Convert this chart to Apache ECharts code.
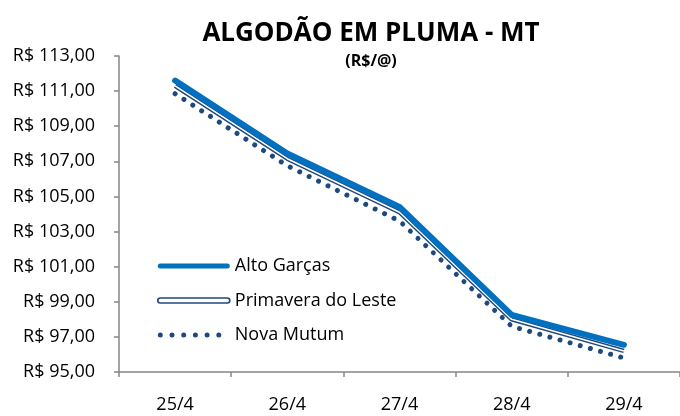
<!DOCTYPE html>
<html>
<head>
<meta charset="utf-8">
<script src="https://cdn.jsdelivr.net/npm/echarts@6/dist/echarts.min.js"></script>
<style>
html,body{margin:0;padding:0;background:#fff;}
#chart{width:680px;height:416px;}
</style>
</head>
<body>
<div id="chart"></div>
<script>
var categories = ['25/4', '26/4', '27/4', '28/4', '29/4'];
var altoGarcas = [111.60, 107.45, 104.40, 98.25, 96.55];
var primaveraLeste = [111.30, 107.15, 104.10, 98.00, 96.20];
var novaMutum = [110.85, 106.75, 103.60, 97.60, 95.80];
var yTicks = { min: 95, max: 113, interval: 2 };

var FONT = 'Open Sans';
var BLUE = '#0070C0';
var NAVY = '#1F497D';
var AXIS = '#868686';

var chart = echarts.init(document.getElementById('chart'), null, { renderer: 'canvas' });
chart.setOption({
  animation: false,
  backgroundColor: '#ffffff',
  title: {
    text: 'ALGODÃO EM PLUMA - MT',
    subtext: '(R$/@)',
    left: 366,
    top: 16,
    textAlign: 'center',
    itemGap: 6,
    textStyle: { fontFamily: FONT, fontWeight: 'bold', fontSize: 26, color: '#000' },
    subtextStyle: { fontFamily: FONT, fontWeight: 'bold', fontSize: 16, color: '#000' }
  },
  grid: { left: 119, top: 56, width: 573, height: 316, containLabel: false },
  legend: {
    orient: 'vertical',
    left: 152,
    top: 252,
    itemWidth: 72,
    itemHeight: 20,
    itemGap: 16.5,
    symbolKeepAspect: true,
    textStyle: { fontFamily: FONT, fontSize: 18, color: '#000' },
    data: [
      { name: 'Alto Garças', icon: 'path://M2.5,0 L69.5,0 A2.5,2.5 0 0 1 69.5,5 L2.5,5 A2.5,2.5 0 0 1 2.5,0 Z',
        itemStyle: { color: BLUE, borderWidth: 0 } },
      { name: 'Primavera do Leste', icon: 'path://M2.5,0 L69.5,0 A2.5,2.5 0 0 1 69.5,5 L2.5,5 A2.5,2.5 0 0 1 2.5,0 Z',
        itemStyle: { color: '#ffffff', borderColor: NAVY, borderWidth: 1.6 } },
      { name: 'Nova Mutum', icon: 'path://M0,2.5 A2.5,2.5 0 1 1 5,2.5 A2.5,2.5 0 1 1 0,2.5 Z M11.7,2.5 A2.5,2.5 0 1 1 16.7,2.5 A2.5,2.5 0 1 1 11.7,2.5 Z M23.4,2.5 A2.5,2.5 0 1 1 28.4,2.5 A2.5,2.5 0 1 1 23.4,2.5 Z M35.1,2.5 A2.5,2.5 0 1 1 40.1,2.5 A2.5,2.5 0 1 1 35.1,2.5 Z M46.8,2.5 A2.5,2.5 0 1 1 51.8,2.5 A2.5,2.5 0 1 1 46.8,2.5 Z M58.5,2.5 A2.5,2.5 0 1 1 63.5,2.5 A2.5,2.5 0 1 1 58.5,2.5 Z M72,2.5 L72,2.5',
        itemStyle: { color: NAVY, borderWidth: 0 } }
    ]
  },
  xAxis: {
    type: 'category',
    data: categories,
    boundaryGap: true,
    axisLine: { show: true, lineStyle: { color: AXIS, width: 1.5 } },
    axisTick: { show: true, length: 5, inside: false, lineStyle: { color: AXIS, width: 1.5 } },
    axisLabel: { fontFamily: FONT, fontSize: 18, color: '#000', margin: 24 },
    splitLine: { show: false }
  },
  yAxis: {
    type: 'value',
    min: yTicks.min,
    max: yTicks.max,
    interval: yTicks.interval,
    axisLine: { show: true, lineStyle: { color: AXIS, width: 1.5 } },
    axisTick: { show: true, length: 5, lineStyle: { color: AXIS, width: 1.5 } },
    axisLabel: {
      fontFamily: FONT, fontSize: 18, color: '#000', margin: 24,
      formatter: function (v) { return 'R$ ' + v.toFixed(2).replace('.', ','); }
    },
    splitLine: { show: false }
  },
  series: [
    {
      name: 'Nova Mutum', type: 'line', data: novaMutum, symbol: 'none', z: 2,
      lineStyle: { color: NAVY, width: 5, type: [0.01, 10.5], cap: 'round', join: 'round' },
      itemStyle: { color: NAVY }
    },
    {
      name: 'Primavera do Leste', type: 'line', data: primaveraLeste, symbol: 'none', z: 3,
      lineStyle: { color: NAVY, width: 4.5, join: 'round' },
      itemStyle: { color: NAVY }
    },
    {
      name: 'Primavera inner', type: 'line', data: primaveraLeste, symbol: 'none', z: 4,
      lineStyle: { color: '#ffffff', width: 1.6, join: 'round' },
      silent: true
    },
    {
      name: 'Alto Garças', type: 'line', data: altoGarcas, symbol: 'none', z: 5,
      lineStyle: { color: BLUE, width: 6, cap: 'round', join: 'round' },
      itemStyle: { color: BLUE }
    }
  ]
});
</script>
</body>
</html>
